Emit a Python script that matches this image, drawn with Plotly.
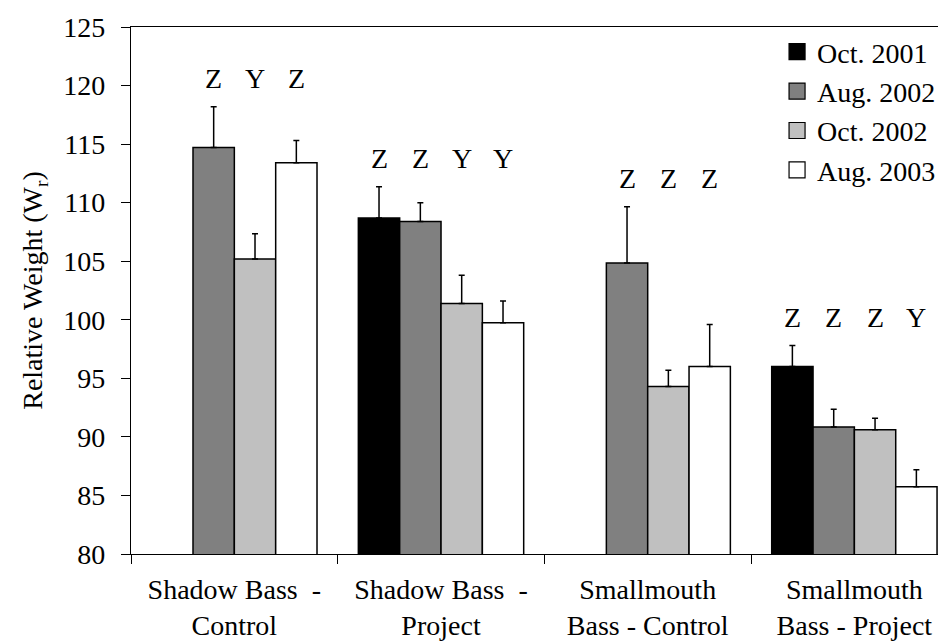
import plotly.graph_objects as go

categories = ["Shadow Bass\u00a0 -<br>Control", "Shadow Bass\u00a0 -<br>Project",
              "Smallmouth<br>Bass - Control", "Smallmouth<br>Bass - Project"]
series_names = ["Oct. 2001", "Aug. 2002", "Oct. 2002", "Aug. 2003"]

oct_2001 = [None, 108.7, None, 96.0]
aug_2002 = [114.7, 108.4, 104.85, 90.85]
oct_2002 = [105.2, 101.4, 94.3, 90.6]
aug_2003 = [113.4, 99.75, 96.0, 85.75]

err_oct_2001 = [0, 2.65, 0, 1.8]
err_aug_2002 = [3.5, 1.6, 4.8, 1.5]
err_oct_2002 = [2.15, 2.4, 1.4, 1.0]
err_aug_2003 = [1.9, 1.85, 3.6, 1.45]

letters = [["", "Z", "Y", "Z"],
           ["Z", "Z", "Y", "Y"],
           ["", "Z", "Z", "Z"],
           ["Z", "Z", "Z", "Y"]]

colors = ["#000000", "#808080", "#C0C0C0", "#FFFFFF"]
FONT = "Liberation Serif, Times New Roman, serif"
FS = 28

values = [oct_2001, aug_2002, oct_2002, aug_2003]
errors = [err_oct_2001, err_aug_2002, err_oct_2002, err_aug_2003]

fig = go.Figure()
for name, vals, errs, col in zip(series_names, values, errors, colors):
    fig.add_trace(go.Bar(
        x=categories, y=vals, name=name,
        marker=dict(color=col, line=dict(color="#000000", width=1.5)),
        error_y=dict(type="data", array=errs, arrayminus=[0] * len(errs),
                     symmetric=False, color="#000000", thickness=1.5, width=3),
        showlegend=False,
    ))
    # legend entry
    fig.add_trace(go.Scatter(
        x=[None], y=[None], mode="markers", name=name,
        marker=dict(symbol="square", size=16, color=col,
                    line=dict(color="#000000", width=1.2)),
        showlegend=True,
    ))

bargap = 0.2
nser = len(series_names)
slot = (1 - bargap) / nser
annotations = []
for gi in range(len(categories)):
    tops = [v[gi] + e[gi] for v, e in zip(values, errors) if v[gi] is not None]
    ly = max(tops) + 2.4
    for si in range(nser):
        txt = letters[gi][si]
        if not txt:
            continue
        annotations.append(dict(
            x=gi + (si - (nser - 1) / 2) * slot, y=ly, xref="x", yref="y",
            text=txt, showarrow=False, yanchor="middle",
            font=dict(family=FONT, size=FS, color="#000000")))

fig.update_layout(
    width=946, height=643,
    margin=dict(l=122.5, r=0, t=19, b=96.5),
    paper_bgcolor="white", plot_bgcolor="white",
    barmode="group", bargap=bargap, bargroupgap=0,
    font=dict(family=FONT, size=FS, color="#000000"),
    annotations=annotations,
    legend=dict(x=0.785, y=1.0, xanchor="left", yanchor="top",
                bgcolor="rgba(0,0,0,0)", font=dict(family=FONT, size=FS),
                itemsizing="trace", tracegroupgap=0),
    xaxis=dict(
        type="category", range=[-0.5, 3.482], automargin=False,
        showline=True, linecolor="#000000", linewidth=1.3, mirror=True,
        ticks="outside", ticklen=9, tickwidth=1.3, tickcolor="#000000",
        tickson="boundaries", showgrid=False, zeroline=False,
        tickfont=dict(family=FONT, size=FS),
        ticklabelstandoff=10,
    ),
    yaxis=dict(
        range=[80, 125], dtick=5, tick0=80, automargin=False,
        showline=True, linecolor="#000000", linewidth=1.3,
        ticks="outside", ticklen=9, tickwidth=1.3, tickcolor="#000000",
        showgrid=False, zeroline=False,
        tickfont=dict(family=FONT, size=FS),
        ticklabelstandoff=10,
        title=dict(text="Relative Weight (W<sub>r</sub>)",
                   font=dict(family=FONT, size=FS), standoff=12),
    ),
)

fig.write_html("out.html")
